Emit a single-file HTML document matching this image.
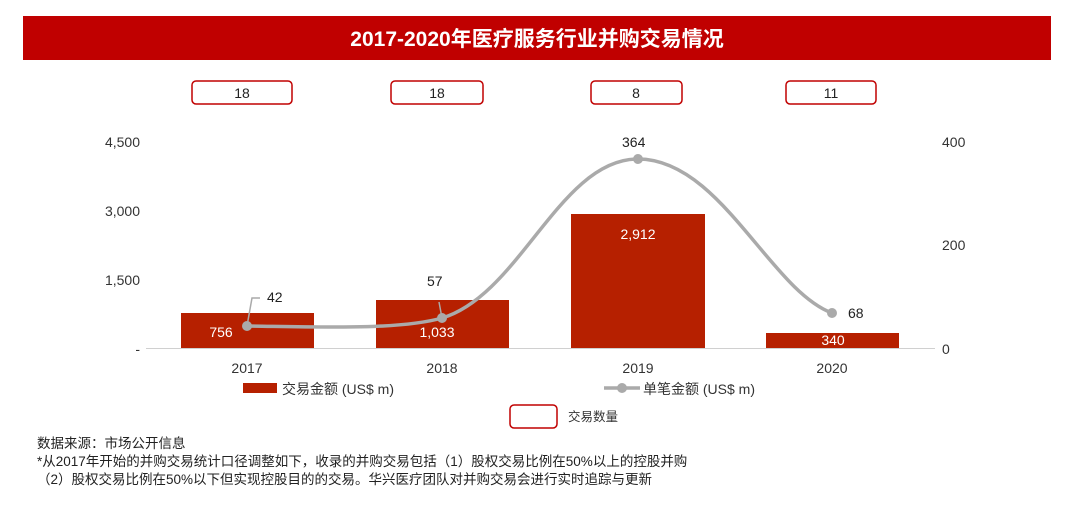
<!DOCTYPE html>
<html><head><meta charset="utf-8"><style>
body{margin:0;background:#fff;}
svg text{font-family:"Liberation Sans","Noto Sans CJK SC",sans-serif;}
</style></head><body>
<svg width="1080" height="501" xmlns="http://www.w3.org/2000/svg">
<rect x="23" y="16" width="1028" height="44" fill="#c00000"/>
<text x="537" y="46" font-size="21" font-weight="bold" fill="#fff" text-anchor="middle">2017-2020年医疗服务行业并购交易情况</text>
<g fill="#fff" stroke="#c00000" stroke-width="1.5">
<rect x="192" y="81" width="100" height="23" rx="4"/>
<rect x="391" y="81" width="92" height="23" rx="4"/>
<rect x="591" y="81" width="91" height="23" rx="4"/>
<rect x="786" y="81" width="90" height="23" rx="4"/>
<rect x="510" y="405" width="47" height="23" rx="4"/>
</g>
<g font-size="14" fill="#222" text-anchor="middle">
<text x="242" y="98">18</text><text x="437" y="98">18</text><text x="636" y="98">8</text><text x="831" y="98">11</text>
</g>
<g font-size="14" fill="#333" text-anchor="end">
<text x="140" y="147">4,500</text><text x="140" y="216">3,000</text><text x="140" y="285">1,500</text><text x="140" y="354">-</text>
</g>
<g font-size="14" fill="#333">
<text x="942" y="147">400</text><text x="942" y="250">200</text><text x="942" y="354">0</text>
</g>
<g fill="#b62000">
<rect x="181" y="313" width="133" height="35"/>
<rect x="376" y="300" width="133" height="48"/>
<rect x="571" y="214" width="134" height="134"/>
<rect x="766" y="333" width="133" height="15"/>
</g>
<line x1="146" y1="348.5" x2="935" y2="348.5" stroke="#d0d0d0" stroke-width="1"/>
<g font-size="14" fill="#fff" text-anchor="middle">
<text x="221" y="337">756</text><text x="437" y="337">1,033</text><text x="638" y="239">2,912</text><text x="833" y="345">340</text>
</g>
<path d="M247,326 C320,327 400,330 442,318 C520,295 560,159 638,159 C720,159 770,290 832,313" fill="none" stroke="#aaa" stroke-width="3.5"/>
<g fill="#aaa"><circle cx="247" cy="326" r="5"/><circle cx="442" cy="318" r="5"/><circle cx="638" cy="159" r="5"/><circle cx="832" cy="313" r="5"/></g>
<path d="M247,326 L252,298 L260,298" fill="none" stroke="#aaa" stroke-width="1.5"/>
<line x1="442" y1="318" x2="439" y2="302" stroke="#aaa" stroke-width="1.5"/>
<g font-size="14" fill="#222">
<text x="267" y="302">42</text><text x="427" y="286">57</text><text x="622" y="147">364</text><text x="848" y="318">68</text>
</g>
<g font-size="14" fill="#333" text-anchor="middle">
<text x="247" y="373">2017</text><text x="442" y="373">2018</text><text x="638" y="373">2019</text><text x="832" y="373">2020</text>
</g>
<rect x="243" y="383" width="34" height="10" fill="#b62000"/>
<text x="282" y="394" font-size="14" fill="#333">交易金额 (US$ m)</text>
<line x1="604" y1="388" x2="640" y2="388" stroke="#aaa" stroke-width="3.5"/>
<circle cx="622" cy="388" r="5" fill="#aaa"/>
<text x="643" y="394" font-size="14" fill="#333">单笔金额 (US$ m)</text>
<text x="568" y="421" font-size="12.5" fill="#333">交易数量</text>
<g font-size="13.5" fill="#222">
<text x="37" y="448">数据来源：市场公开信息</text>
<text x="37" y="466">*从2017年开始的并购交易统计口径调整如下，收录的并购交易包括（1）股权交易比例在50%以上的控股并购</text>
<text x="37" y="484">（2）股权交易比例在50%以下但实现控股目的的交易。华兴医疗团队对并购交易会进行实时追踪与更新</text>
</g>
</svg>
</body></html>
